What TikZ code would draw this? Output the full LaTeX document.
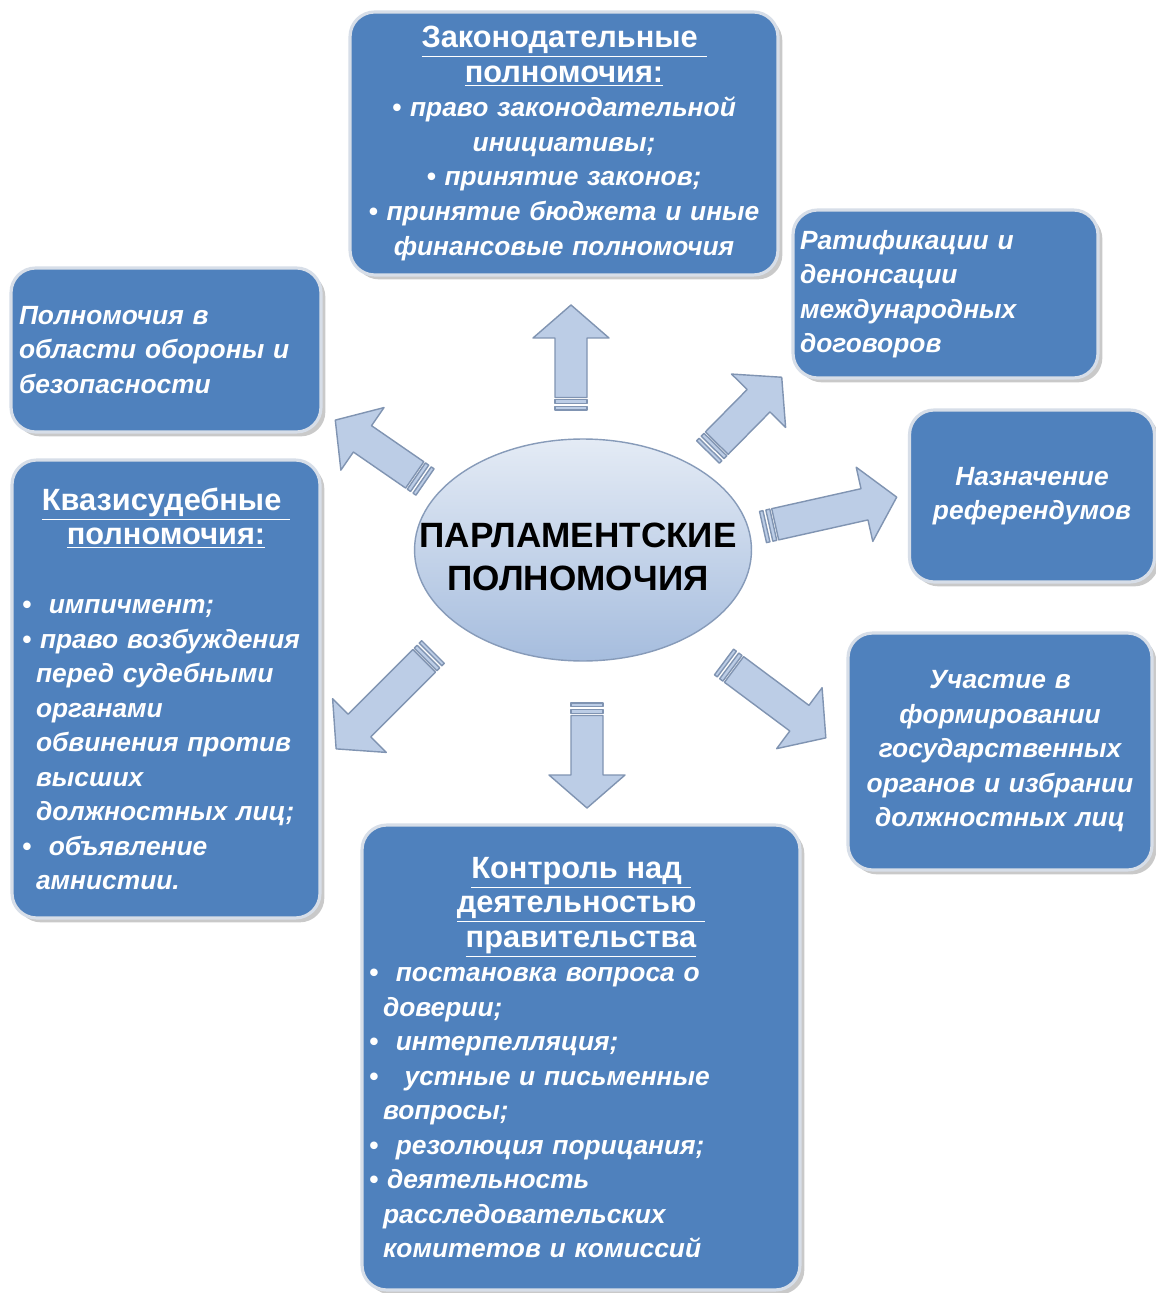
\documentclass[tikz,border=0pt]{standalone}
\usepackage{fontspec}
\setmainfont{Liberation Sans}
\usetikzlibrary{shapes.geometric,shadows}
\definecolor{boxblue}{RGB}{79,129,189}
\definecolor{boxborder}{RGB}{215,222,232}
\definecolor{arrowfill}{RGB}{188,205,230}
\definecolor{arrowline}{RGB}{128,148,178}
\definecolor{elltop}{RGB}{228,235,245}
\definecolor{ellbot}{RGB}{166,189,222}
\definecolor{ellline}{RGB}{135,155,185}
\newcommand\itemfont{\fontsize{15}{19.64}\selectfont\bfseries\itshape}
\newcommand\titlefont{\fontsize{17.5}{19.64}\selectfont\bfseries\upshape}
\newcommand\indentln{\hspace*{0.28cm}}
\newcommand\nb[1]{\mbox{#1}}
\tikzset{
  infobox/.style={draw=boxborder, line width=1.8pt, fill=boxblue, rounded corners=14pt,
    text=white, font=\itemfont, inner ysep=0pt,
    drop shadow={shadow xshift=2.5pt, shadow yshift=-2.5pt, opacity=0.35, fill=black!60}},
  arrowst/.style={fill=arrowfill, draw=arrowline, line width=0.8pt, line join=round},
  pics/barrow/.style={code={
    \path[arrowst] (0,-16) rectangle (3.5,16);
    \path[arrowst] (6.5,-16) rectangle (10.5,16);
    \path[arrowst] (12.5,-16) -- ({#1-33},-16) -- ({#1-33},-38) -- (#1,0)
      -- ({#1-33},38) -- ({#1-33},16) -- (12.5,16) -- cycle;
  }}
}
\begin{document}
\begin{tikzpicture}[x=0.02cm,y=-0.02cm]
\fill[white] (0,0) rectangle (1155,1293);
\useasboundingbox (0,0) rectangle (1155,1293);

% arrows
\pic (a1) [rotate=90] at (571,410) {barrow=105};
\pic (a2) [rotate=45.4] at (708,452) {barrow=105};
\pic (a3) [rotate=12.6] at (763,527) {barrow=137};
\pic (a4) [rotate=-36.7] at (724,662) {barrow=127};
\pic (a5) [rotate=-90] at (587,703) {barrow=105};
\pic (a6) [rotate=-135] at (433,652) {barrow=137};
\pic (a7) [rotate=145.4] at (425,482) {barrow=109};

% centre
\shade[draw=ellline, line width=0.8pt, top color=elltop, bottom color=ellbot]
  (583,550) ellipse [x radius=3.37cm, y radius=2.22cm];
\node (center) [align=center, inner sep=0pt, font=\fontsize{20}{24.4}\selectfont\bfseries] at (578,557)
  {ПАРЛАМЕНТСКИЕ\\ПОЛНОМОЧИЯ};

% boxes
\node (b1) [infobox, text width=8.28cm, inner xsep=0.14cm, minimum height=5.26cm, align=center] at (564,143.5)
  {{\titlefont\underline{Законодательные\ }}\\
   {\titlefont\underline{полномочия:}}\\
   \nb{\textbullet\ право законодательной}\\
   инициативы;\\
   \nb{\textbullet\ принятие законов;}\\
   \nb{\textbullet\ принятие бюджета и иные}\\
   \nb{финансовые полномочия}};

\node (b2) [infobox, text width=5.82cm, inner xsep=0.14cm, minimum height=3.36cm, align=left] at (945.5,294)
  {Ратификации и\\денонсации\\международных\\договоров};

\node (b3) [infobox, text width=5.88cm, inner xsep=0.16cm, minimum height=3.28cm, align=left] at (166,350)
  {Полномочия в\\\nb{области обороны и}\\безопасности};

\node (b4) [infobox, text width=4.62cm, inner xsep=0.14cm, minimum height=3.44cm, align=center] at (1032,496)
  {Назначение\\референдумов};

\node (b5) [infobox, text width=5.76cm, inner xsep=0.2cm, minimum height=9.16cm, align=left] at (166,689)
  {\makebox[\hsize][c]{\titlefont\underline{Квазисудебные\ }}\\
   \makebox[\hsize][c]{\titlefont\underline{полномочия:}}\\
   \mbox{}\\
   \nb{\textbullet\ \ импичмент;}\\
   \nb{\textbullet\ право возбуждения}\\
   \nb{\indentln перед судебными}\\
   \indentln органами\\
   \nb{\indentln обвинения против}\\
   \indentln высших\\
   \nb{\indentln должностных лиц;}\\
   \nb{\textbullet\ \ объявление}\\
   \indentln амнистии.};

\node (b6) [infobox, text width=5.8cm, inner xsep=0.14cm, minimum height=4.74cm, align=center] at (1000,751.5)
  {Участие в\\формировании\\государственных\\\nb{органов и избрании}\\\nb{должностных лиц}};

\node (b7) [infobox, text width=8.48cm, inner xsep=0.14cm, minimum height=9.3cm, align=left] at (581,1057.5)
  {\makebox[\hsize][c]{\titlefont\underline{Контроль над\ }}\\
   \makebox[\hsize][c]{\titlefont\underline{деятельностью\ }}\\
   \makebox[\hsize][c]{\titlefont\underline{правительства}}\\
   \nb{\textbullet\ \ постановка вопроса о}\\
   \indentln доверии;\\
   \nb{\textbullet\ \ интерпелляция;}\\
   \nb{\textbullet\ \ \ устные и письменные}\\
   \indentln вопросы;\\
   \nb{\textbullet\ \ резолюция порицания;}\\
   \nb{\textbullet\ деятельность}\\
   \indentln расследовательских\\
   \nb{\indentln комитетов и комиссий}};
\end{tikzpicture}
\end{document}
